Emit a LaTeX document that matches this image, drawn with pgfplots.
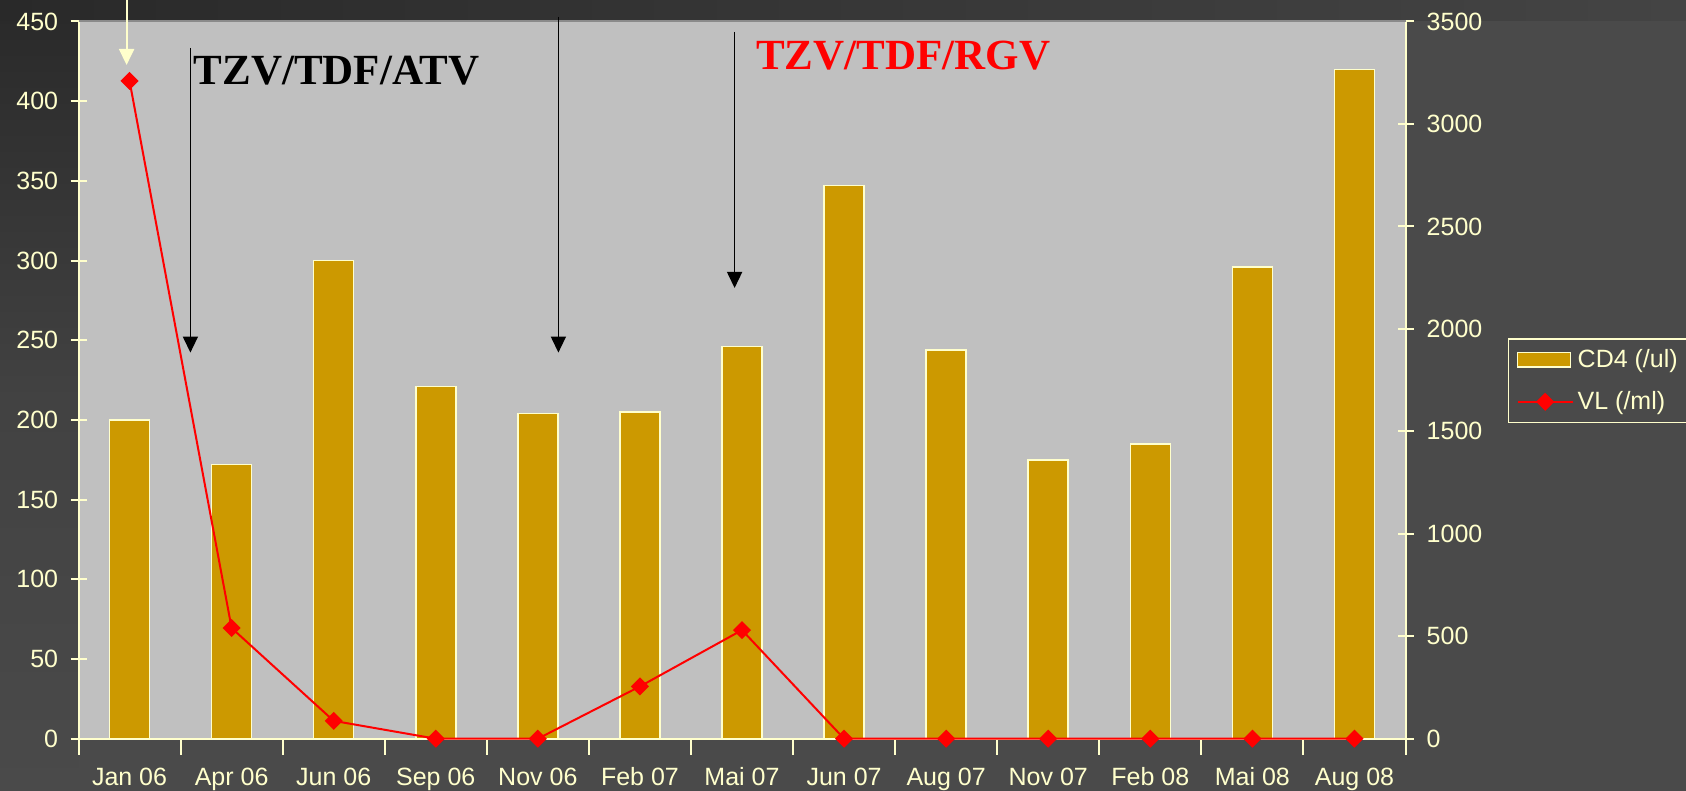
\documentclass[border=0pt]{standalone}
\usepackage{fontspec}
\setmainfont{Liberation Sans}
\newfontfamily\annfont{Liberation Serif}
\usepackage{pgfplots}
\pgfplotsset{compat=1.18}
\usetikzlibrary{arrows.meta}
\definecolor{cream}{HTML}{FFFFCC}
\definecolor{barcol}{HTML}{CC9900}
\definecolor{plotbg}{HTML}{C0C0C0}
\definecolor{bgmain}{HTML}{4A4A4A}
\definecolor{bgdark}{HTML}{292929}
\definecolor{topline}{HTML}{8A8A8A}
\pgfplotsset{
  vlleg/.style={legend image code/.code={\draw[mark repeat=2,mark phase=2,##1] plot coordinates {(0pt,0pt)(13.75pt,0pt)(27.5pt,0pt)};}},
  cdleg/.style={legend image code/.code={\draw[fill=barcol,draw=cream,line width=0.75pt] (0pt,-3.65pt) rectangle (26.5pt,3.65pt);}},
}
\begin{document}
\begin{tikzpicture}
\fill[bgmain] (0,0) rectangle (843pt,395.5pt);
\shade[top color=bgdark, bottom color=bgmain, middle color=bgmain!75!bgdark] (0,0) rectangle (39.3pt,395.5pt);
\shade[left color=bgdark, right color=bgmain!92!black] (0,385pt) rectangle (843pt,395.5pt);
\begin{axis}[
  name=ax1,
  at={(39.25pt,26.15pt)}, anchor=south west,
  scale only axis, width=663.5pt, height=358.6pt,
  xmin=-0.5, xmax=12.5, ymin=0, ymax=450,
  axis background/.style={fill=plotbg},
  axis x line*=bottom, axis y line*=left,
  axis line style={cream, line width=1pt},
  xtick={-0.5,0.5,1.5,2.5,3.5,4.5,5.5,6.5,7.5,8.5,9.5,10.5,11.5,12.5},
  xticklabels={Jan 06,Apr 06,Jun 06,Sep 06,Nov 06,Feb 07,Mai 07,Jun 07,Aug 07,Nov 07,Feb 08,Mai 08,Aug 08,{}},
  xticklabel style={anchor=base, xshift=25.52pt, yshift=-15.2pt, inner sep=0pt},
  ytick={0,50,...,450},
  yticklabel style={anchor=east, inner sep=0pt, xshift=-6pt},
  tick align=center, major tick length=8pt,
  tick style={cream, line width=1pt},
  tick label style={font=\fontsize{12.5}{15}\selectfont, text=cream},
  /pgf/number format/assume math mode=true,
  ybar, bar width=20pt,
]
\addplot[fill=barcol, draw=cream, line width=0.75pt] coordinates {
(0,200) (1,172) (2,300) (3,221) (4,204) (5,205) (6,246) (7,347) (8,244) (9,175) (10,185) (11,296) (12,420)};
\end{axis}
\begin{axis}[
  at={(39.25pt,26.15pt)}, anchor=south west,
  scale only axis, width=663.5pt, height=358.6pt,
  xmin=-0.5, xmax=12.5, ymin=0, ymax=3500,
  axis x line=none, axis y line*=right,
  axis line style={cream, line width=1pt},
  ytick={0,500,...,3500},
  scaled y ticks=false,
  /pgf/number format/1000 sep={},
  /pgf/number format/assume math mode=true,
  yticklabel style={anchor=west, inner sep=0pt, xshift=6.4pt},
  tick align=center, major tick length=8pt,
  tick style={cream, line width=1pt},
  tick label style={font=\fontsize{12.5}{15}\selectfont, text=cream},
  clip=false,
  legend style={at={(1.0772,0.440)}, anchor=south west, fill=none, draw=cream, line width=0.75pt,
    text=cream, font=\fontsize{12.5}{15}\selectfont, inner xsep=4pt, inner ysep=3pt, row sep=6.5pt,
    cells={anchor=west}},
]
\addlegendimage{cdleg}
\addlegendentry{CD4 (/ul)}
\addplot[red, line width=1pt, mark=square*, mark size=2.7pt, mark options={rotate=45, fill=red, draw=red}, vlleg]
  coordinates {(0,3210) (1,540) (2,87) (3,0) (4,0) (5,255) (6,530) (7,0) (8,0) (9,0) (10,0) (11,0) (12,0)};
\addlegendentry{VL (/ml)}
\end{axis}
\draw[topline, line width=1pt] (ax1.north west) -- (ax1.north east);
\draw[cream, line width=1pt, -{Triangle[width=7.5pt,length=8pt]}] (63.3pt,395.5pt) -- (63.3pt,363pt);
\draw[black, line width=0.75pt, -{Triangle[width=7.5pt,length=8pt]}] (95.2pt,371.5pt) -- (95.2pt,219.2pt);
\draw[black, line width=0.75pt, -{Triangle[width=7.5pt,length=8pt]}] (279.2pt,387pt) -- (279.2pt,219.2pt);
\draw[black, line width=0.75pt, -{Triangle[width=7.5pt,length=8pt]}] (367.3pt,379.5pt) -- (367.3pt,251.5pt);
\node[anchor=base west, inner sep=0pt, font=\annfont\bfseries\fontsize{21.5}{25}\selectfont, text=black] at (96.7pt,353pt) {TZV/TDF/ATV};
\node[anchor=base west, inner sep=0pt, font=\annfont\bfseries\fontsize{21.5}{25}\selectfont, text=red] at (377.9pt,360.5pt) {TZV/TDF/RGV};
\pgfresetboundingbox
\useasboundingbox (0,0) rectangle (843pt,395.5pt);
\end{tikzpicture}
\end{document}
